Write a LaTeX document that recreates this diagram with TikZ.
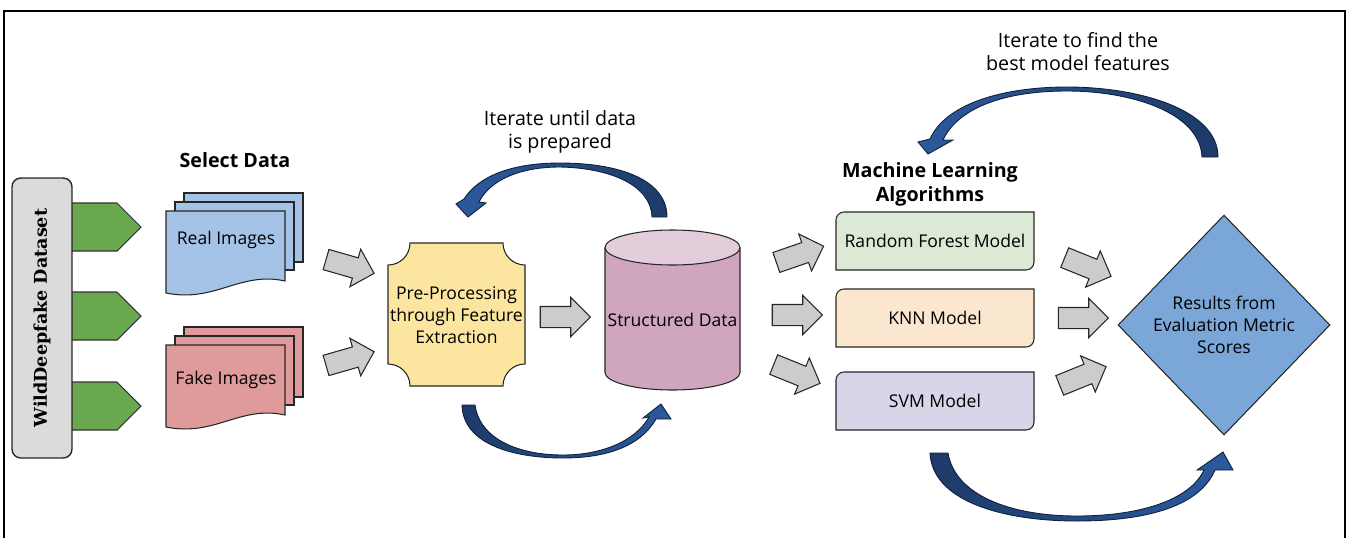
\documentclass[tikz,border=0pt]{standalone}
\usepackage{fontspec}
\setmainfont{Open Sans}
\newfontfamily\serifbold{DejaVu Serif}
\usetikzlibrary{shapes.geometric,shapes.arrows}

\definecolor{boxgray}{HTML}{DBDBDB}
\definecolor{taggreen}{HTML}{6AA84F}
\definecolor{realblue}{HTML}{A5C3E6}
\definecolor{fakepink}{HTML}{DF9B9B}
\definecolor{prepyellow}{HTML}{FCE59E}
\definecolor{cylbody}{HTML}{CFA6BD}
\definecolor{cyltop}{HTML}{E4CDDA}
\definecolor{rfgreen}{HTML}{DCE9D5}
\definecolor{knnpeach}{HTML}{FBE6CF}
\definecolor{svmlilac}{HTML}{D9D4E8}
\definecolor{resultblue}{HTML}{7BA6D8}
\definecolor{arrowgray}{HTML}{CCCCCC}
\definecolor{arcdark}{HTML}{1D3A68}
\definecolor{arclight}{HTML}{2C5A9E}
\definecolor{arcline}{HTML}{10203A}

\begin{document}
\begin{tikzpicture}[x=0.02cm, y=-0.02cm,
    sheet/.style={draw=black!85, line width=0.6pt},
    tag/.style={draw=black!80, fill=taggreen, line width=0.6pt},
    blockarrow/.style={single arrow, draw=black!85, fill=arrowgray, line width=0.6pt,
        minimum height=1cm, minimum width=0pt, inner xsep=0pt, inner ysep=0.2cm,
        single arrow head extend=0.18cm},
    bodytext/.style={font=\fontsize{10}{12.5}\selectfont, align=center},
    heading/.style={font=\fontsize{11.2}{13.6}\selectfont\bfseries, align=center},
    note/.style={font=\fontsize{11.2}{13}\selectfont, align=center},
    bendarrow/.style={draw=arcline, line width=0.5pt}
]
    \useasboundingbox (0,0) rectangle (1349,538);

    % Outer frame (open at the bottom)
    \draw[line width=1pt] (4,538) -- (4,11) -- (1345,11) -- (1345,538);

    % Dataset with its three outputs
    \foreach \y in {227,316,406} {
        \filldraw[tag] (70,\y-24) -- (117,\y-24) -- (141,\y) -- (117,\y+24) -- (70,\y+24) -- cycle;
    }
    \node[draw=black!85, fill=boxgray, rounded corners=5pt, rotate=90, line width=0.8pt,
          minimum width=5.6cm, minimum height=1.2cm,
          font={\serifbold\fontsize{10}{12}\selectfont\bfseries}] (dataset) at (42,318) {WildDeepfake Dataset};

    % Select data: real and fake image stacks
    \node[heading] (select) at (235,160) {Select Data};

    \filldraw[sheet, fill=realblue] (184,193) rectangle (303,262);
    \filldraw[sheet, fill=realblue] (175,202) rectangle (294,270);
    \filldraw[sheet, fill=realblue] (166,293) -- (166,211) -- (285,211) -- (285,281)
        .. controls (240,271) and (215,303) .. (166,293) -- cycle;
    \node[bodytext] (real) at (226,240) {Real Images};

    \filldraw[sheet, fill=fakepink] (184,327) rectangle (303,397);
    \filldraw[sheet, fill=fakepink] (175,336) rectangle (294,405);
    \filldraw[sheet, fill=fakepink] (166,427) -- (166,345) -- (285,345) -- (285,415)
        .. controls (240,405) and (215,437) .. (166,427) -- cycle;
    \node[bodytext] (fake) at (226,380) {Fake Images};

    \node[blockarrow, rotate=-16] (inReal) at (345,265) {};
    \node[blockarrow, rotate=16] (inFake) at (345,360) {};

    % Pre-processing (plaque with concave corners)
    \filldraw[sheet, fill=prepyellow] (410,243) -- (503,243)
        .. controls (503,255.2) and (512.8,265) .. (525,265) -- (525,364)
        .. controls (512.8,364) and (503,373.8) .. (503,386) -- (410,386)
        .. controls (410,373.8) and (400.2,364) .. (388,364) -- (388,265)
        .. controls (400.2,265) and (410,255.2) .. (410,243) -- cycle;
    \node[bodytext] (prep) at (456.5,315) {Pre-Processing\\through Feature\\Extraction};

    \node[blockarrow] (toCyl) at (560,317) {};

    % Structured data cylinder
    \fill[cylbody] (605,247.5) -- (605,372.5) arc[start angle=180, end angle=0, x radius=67.5, y radius=17.5] -- (740,247.5) -- cycle;
    \draw[sheet] (605,247.5) -- (605,372.5) arc[start angle=180, end angle=0, x radius=67.5, y radius=17.5] -- (740,247.5);
    \filldraw[sheet, fill=cyltop] (672.5,247.5) ellipse[x radius=67.5, y radius=17.5];
    \node[bodytext] (cyl) at (672.5,320) {Structured Data};

    % Loop between pre-processing and structured data
    \node[note] (prepNote) at (560,131.5) {Iterate until data\\is prepared};
    \draw[bendarrow, left color=arclight, right color=arcdark] (667,217) -- (652,217)
        .. controls (651,185) and (610,168) .. (560,167)
        .. controls (520,167) and (490,180) .. (479,202) -- (486,203) -- (468,217) -- (456,204) -- (464,199)
        .. controls (478,177) and (510,163) .. (560,163)
        .. controls (620,163) and (667,180) .. (667,217) -- cycle;
    \draw[bendarrow, left color=arcdark, right color=arclight] (462,405) -- (475,405)
        .. controls (480,440) and (520,455) .. (563,455)
        .. controls (600,455) and (635,442) .. (649,417) -- (643,418) -- (661,404) -- (671,419) -- (656,419)
        .. controls (640,447) and (605,458) .. (563,458)
        .. controls (515,458) and (463,445) .. (462,405) -- cycle;

    % Machine learning models
    \node[heading] (mlTitle) at (930,184.5) {Machine Learning\\Algorithms};
    \foreach \name/\y/\col/\txt in {forest/241/rfgreen/Random Forest Model, knn/318/knnpeach/KNN Model, svm/401/svmlilac/SVM Model} {
        \filldraw[sheet, fill=\col] (836,\y+29) -- (836,\y-21) to[out=90,in=180] (844,\y-29)
            -- (1034,\y-29) -- (1034,\y+21) to[out=-90,in=0] (1026,\y+29) -- cycle;
        \node[bodytext] (\name) at (935,\y) {\txt};
    }

    \node[blockarrow, rotate=19] (toForest) at (795,256) {};
    \node[blockarrow] (toKnn) at (792,315) {};
    \node[blockarrow, rotate=-22] (toSvm) at (792,372) {};

    % Evaluation results
    \node[diamond, draw=black!85, fill=resultblue, line width=0.6pt, inner sep=0pt,
          minimum width=4.24cm, minimum height=4.4cm, bodytext] (results) at (1224,325)
          {Results from\\Evaluation Metric\\Scores};

    \node[blockarrow, rotate=-22] (fromForest) at (1083,265) {};
    \node[blockarrow] (fromKnn) at (1078,318) {};
    \node[blockarrow, rotate=22] (fromSvm) at (1078,378) {};

    % Loop between models and results
    \node[note] (modelNote) at (1078,51.5) {Iterate to find the\\best model features};
    \draw[bendarrow, left color=arclight, right color=arcdark] (1218,157) -- (1202,157)
        .. controls (1200,112) and (1130,91) .. (1067,91)
        .. controls (1000,91) and (957,110) .. (943,140) -- (953,140) -- (928,154) -- (918,142) -- (930,139)
        .. controls (945,105) and (1000,87) .. (1067,87)
        .. controls (1140,87) and (1218,110) .. (1218,157) -- cycle;
    \draw[bendarrow, left color=arcdark, right color=arclight] (930,453) -- (948,453)
        .. controls (955,495) and (1010,516) .. (1077,516)
        .. controls (1140,516) and (1190,500) .. (1204,470) -- (1197,470) -- (1223,452) -- (1233,470) -- (1215,470)
        .. controls (1200,505) and (1150,521) .. (1077,521)
        .. controls (1000,521) and (932,500) .. (930,453) -- cycle;

\end{tikzpicture}
\end{document}
